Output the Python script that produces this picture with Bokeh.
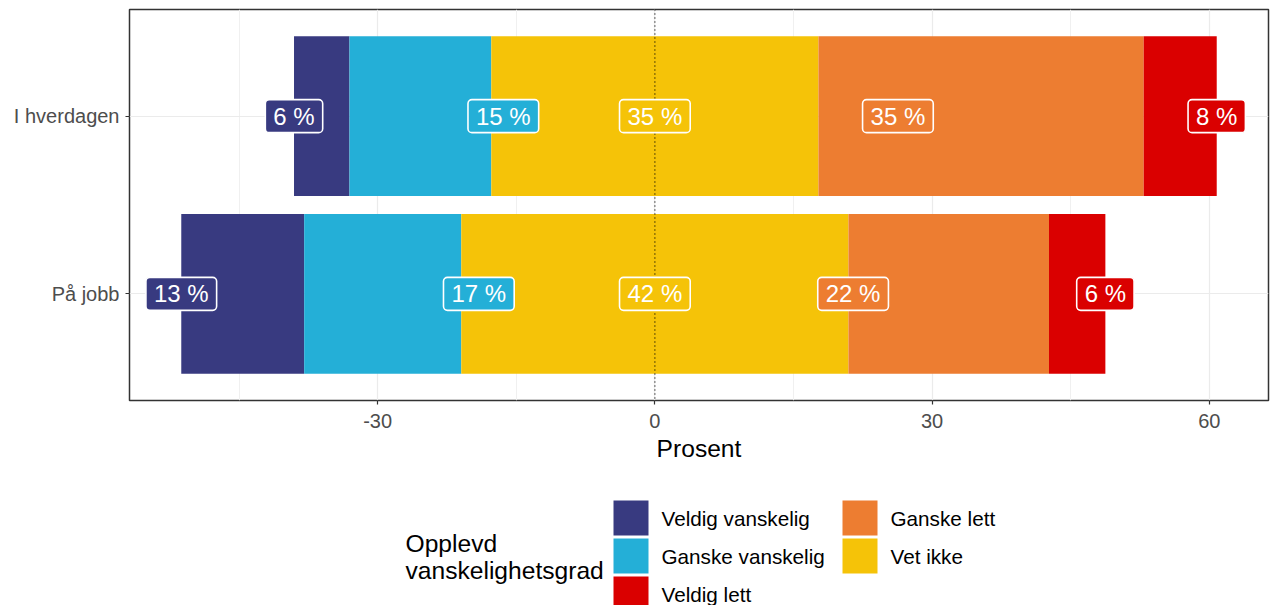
import numpy as np
from bokeh.plotting import figure
from bokeh.layouts import column
from bokeh.models import Range1d, FixedTicker, Span, Label
from bokeh.core.properties import value
from bokeh.embed import file_html
from bokeh.resources import INLINE

# ---- data (percent) ----
categories = ["I hverdagen", "På jobb"]
veldig_vanskelig = [6.0, 13.3]
ganske_vanskelig = [15.35, 17.0]
vet_ikke = [35.4, 41.9]
ganske_lett = [35.2, 21.7]
veldig_lett = [7.9, 6.1]

series_names = ["Veldig vanskelig", "Ganske vanskelig", "Vet ikke", "Ganske lett", "Veldig lett"]
colors = ["#383a80", "#24afd7", "#f5c308", "#ed7d31", "#da0000"]
x_ticks = [-30, 0, 30, 60]
x_minor = [-45, -15, 15, 45]
legend_title = ["Opplevd", "vanskelighetsgrad"]
legend_order = ["Veldig vanskelig", "Ganske vanskelig", "Veldig lett", "Ganske lett", "Vet ikke"]

FONT = "Liberation Sans"
W = 1270
H_MAIN = 475
H_LEG = 130
FRAME_LEFT = 129
FRAME_RIGHT_PAD = 2

vv = np.array(veldig_vanskelig)
gv = np.array(ganske_vanskelig)
vi = np.array(vet_ikke)
gl = np.array(ganske_lett)
vl = np.array(veldig_lett)

ypos = np.array([2.0, 1.0])  # I hverdagen on top

# segment edges
vi_l = -vi / 2
vi_r = vi / 2
gv_l = vi_l - gv
vv_l = gv_l - vv
gl_r = vi_r + gl
vl_r = gl_r + vl

segments = [
    (vv_l, gv_l, vv),
    (gv_l, vi_l, gv),
    (vi_l, vi_r, vi),
    (vi_r, gl_r, gl),
    (gl_r, vl_r, vl),
]

xmin = vv_l.min()
xmax = vl_r.max()
span = xmax - xmin

p = figure(width=W, height=H_MAIN,
           x_range=Range1d(xmin - 0.05 * span, xmax + 0.05 * span),
           y_range=Range1d(0.4, 2.6),
           output_backend="svg", toolbar_location=None,
           min_border_left=FRAME_LEFT, min_border_right=FRAME_RIGHT_PAD,
           min_border_top=9, min_border_bottom=H_MAIN - 400)

p.background_fill_color = "white"
p.border_fill_color = "white"
p.outline_line_color = "#333333"
p.outline_line_width = 1.5

# axes
p.xaxis.ticker = FixedTicker(ticks=x_ticks, minor_ticks=x_minor)
p.xaxis.major_label_overrides = {t: str(t) for t in x_ticks}
p.yaxis.ticker = FixedTicker(ticks=[1, 2])
p.yaxis.major_label_overrides = {2: categories[0], 1: categories[1]}
for ax in (p.xaxis, p.yaxis):
    ax.axis_line_color = None
    ax.major_tick_in = 0
    ax.major_tick_out = 4
    ax.major_tick_line_color = "#333333"
    ax.major_tick_line_width = 1.2
    ax.minor_tick_line_color = None
    ax.major_label_text_font = FONT
    ax.major_label_text_font_size = "20px"
    ax.major_label_text_color = "#4d4d4d"
    ax.major_label_standoff = 6
p.xaxis.major_label_standoff = 9
p.xaxis.axis_label = "Prosent"
p.xaxis.axis_label_text_font = FONT
p.xaxis.axis_label_text_font_size = "24.6px"
p.xaxis.axis_label_text_font_style = "normal"
p.xaxis.axis_label_text_color = "black"
p.xaxis.axis_label_standoff = 4

# grids
p.xgrid.grid_line_color = "#ebebeb"
p.xgrid.grid_line_width = 1.2
p.xgrid.minor_grid_line_color = "#f0f0f0"
p.xgrid.minor_grid_line_width = 1
p.ygrid.grid_line_color = "#ebebeb"
p.ygrid.grid_line_width = 1.2

# bars
for name, col, (l, r, v) in zip(series_names, colors, segments):
    p.hbar(y=ypos, left=l, right=r, height=0.9, fill_color=col, line_color=None)

# dotted zero line
p.add_layout(Span(location=0, dimension="height", line_color="black",
                  line_width=1.2, line_dash="1 3"))

# labels (anchor positions: outer segments at outer edge, middle at 0,
# inner segments close to the Vet ikke border)
nudge_gv = [1.3, 1.9]
nudge_gl = [8.6, 0.5]
label_anchor = [
    vv_l,
    vi_l + np.array(nudge_gv),
    np.zeros(2),
    vi_r + np.array(nudge_gl),
    vl_r,
]
for (l, r, v), col, xs in zip(segments, colors, label_anchor):
    for i in range(2):
        p.add_layout(Label(x=float(xs[i]), y=float(ypos[i]),
                           text=f"{int(round(v[i]))} %",
                           text_font=FONT, text_font_size="24px",
                           text_color="white", text_align="center",
                           text_baseline="middle",
                           background_fill_color=col,
                           border_line_color="white", border_line_width=1.6,
                           border_radius=4,
                           padding=dict(left=8, right=8, top=3, bottom=3)))

# ---- legend panel below (its frame is aligned with the main frame) ----
FW = W - FRAME_LEFT - FRAME_RIGHT_PAD
q = figure(width=W, height=H_LEG, x_range=Range1d(0, FW), y_range=Range1d(0, H_LEG),
           output_backend="svg", toolbar_location=None,
           x_axis_type=None, y_axis_type=None,
           min_border_left=FRAME_LEFT, min_border_right=FRAME_RIGHT_PAD,
           min_border_top=0, min_border_bottom=0)
q.outline_line_color = None
q.xgrid.visible = False
q.ygrid.visible = False

TOP = H_MAIN          # page y of the legend panel top
KEY = 35              # key size (px)
PITCH = 38            # row pitch (px)
COL_X = [613, 842]    # page x of key columns
ROW0 = 500            # page y of first key top
NROWS = 3
STANDOFF = 13


def px(xp):
    return xp - FRAME_LEFT


def py(yp):
    return H_LEG - (yp - TOP)


color_of = dict(zip(series_names, colors))
kx, ky, kc, tx, ty, tt = [], [], [], [], [], []
for idx, nm in enumerate(legend_order):
    c, r = divmod(idx, NROWS)
    x0 = COL_X[c]
    y0 = ROW0 + r * PITCH
    kx.append(px(x0 + KEY / 2))
    ky.append(py(y0 + KEY / 2))
    kc.append(color_of[nm])
    tx.append(px(x0 + KEY + STANDOFF))
    ty.append(py(y0 + KEY / 2))
    tt.append(nm)

q.rect(x=kx, y=ky, width=KEY, height=KEY, fill_color=kc, line_color=None)
q.text(x=tx, y=ty, text=tt, text_font=value(FONT), text_font_size="20.7px",
       text_color="black", text_align="left", text_baseline="middle")

for txt, base in zip(legend_title, (543, 570)):
    q.text(x=[px(405)], y=[py(base)], text=[txt], text_font=value(FONT),
           text_font_size="24.6px", text_color="black", text_align="left",
           text_baseline="alphabetic")

open("out.html", "w").write(file_html(column(p, q, spacing=0), INLINE))
